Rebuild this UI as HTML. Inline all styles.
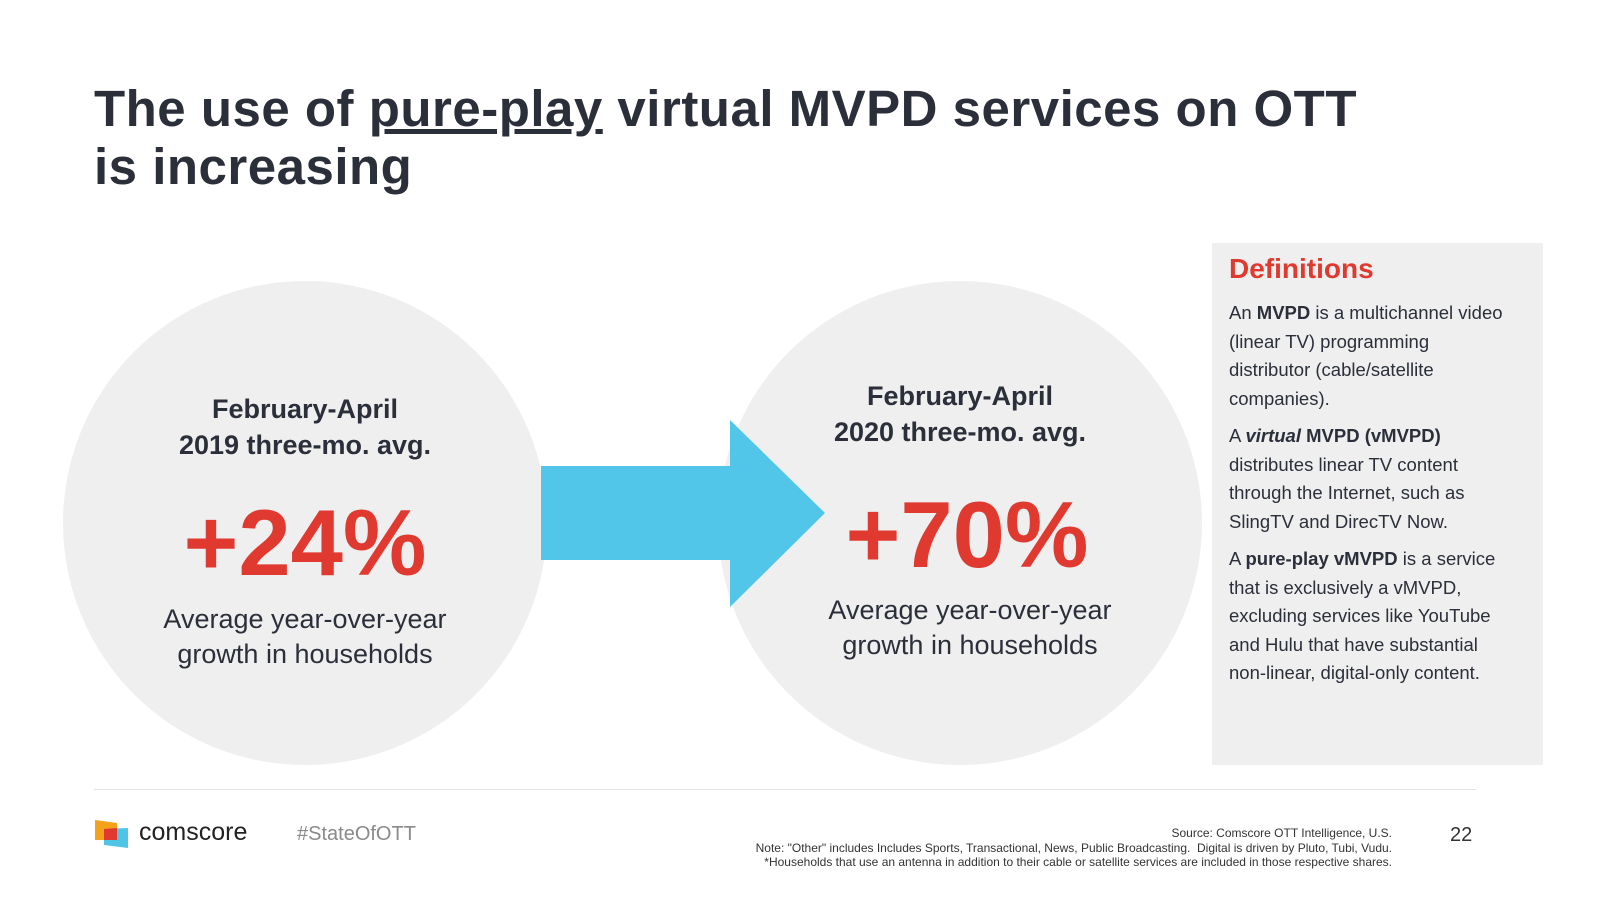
<!DOCTYPE html>
<html><head><meta charset="utf-8"><style>
body{margin:0;width:1600px;height:900px;background:#fff;position:relative;overflow:hidden;font-family:"Liberation Sans",Arial,sans-serif;color:#2b2f3a}
.a{position:absolute}
.t{left:94px;top:80px;font-size:51px;font-weight:bold;line-height:58px;letter-spacing:0.5px}
.circ{border-radius:50%;background:#efefef;width:484px;height:484px}
.ct{width:484px;text-align:center}
.h{font-size:27px;font-weight:bold;line-height:36px}
.big{font-size:94px;font-weight:bold;color:#e03a30;line-height:100px}
.sub{font-size:27px;line-height:35px}
.def{left:1212px;top:243px;width:331px;height:522px;background:#efefef}
.def p{margin:0 0 9px 0;font-size:18.5px;line-height:28.5px;color:#2b2f3a;width:284px}
</style></head><body>
<div class="a t">The use of <span style="text-decoration:underline">pure-play</span> virtual MVPD services on OTT<br>is increasing</div>

<div class="a circ" style="left:63px;top:281px"></div>
<div class="a circ" style="left:718px;top:281px"></div>

<svg class="a" style="left:0;top:0" width="1600" height="900">
<polygon points="541,466 730,466 730,420 825,513 730,607 730,560 541,560" fill="#52c6e8"/>
</svg>

<div class="a ct" style="left:63px;top:391px"><div class="h">February-April<br>2019 three-mo. avg.</div></div>
<div class="a ct big" style="left:63px;top:493px">+24%</div>
<div class="a ct sub" style="left:63px;top:602px">Average year-over-year<br>growth in households</div>

<div class="a ct" style="left:718px;top:378px"><div class="h">February-April<br>2020 three-mo. avg.</div></div>
<div class="a ct big" style="left:725px;top:485px">+70%</div>
<div class="a ct sub" style="left:728px;top:593px">Average year-over-year<br>growth in households</div>

<div class="a def">
<div style="padding:10px 16px 0 17px">
<div style="color:#e03a30;font-size:28px;font-weight:bold;margin-bottom:14px">Definitions</div>
<p>An <b>MVPD</b> is a multichannel video (linear TV) programming distributor (cable/satellite companies).</p>
<p>A <b><i>virtual</i> MVPD (vMVPD)</b> distributes linear TV content through the Internet, such as SlingTV and DirecTV Now.</p>
<p>A <b>pure-play vMVPD</b> is a service that is exclusively a vMVPD, excluding services like YouTube and Hulu that have substantial non-linear, digital-only content.</p>
</div></div>

<div class="a" style="left:94px;top:789px;width:1382px;height:1px;background:#e3e3e3"></div>
<svg class="a" style="left:95px;top:820px" width="34" height="28">
<polygon points="0,0 22,3 22,20 0,20" fill="#f5a21b"/>
<polygon points="9,9 33,8 33,28 9,25" fill="#4fc5e6"/>
<polygon points="9,9 22,8 22,20 9,20" fill="#e03a30"/>
</svg>
<div class="a" style="left:139px;top:818px;font-size:25px;color:#222">comscore</div>
<div class="a" style="left:297px;top:823px;font-size:20px;color:#8a8a8a">#StateOfOTT</div>
<div class="a" style="right:208px;top:826px;font-size:12px;line-height:14.5px;text-align:right;color:#333">Source: Comscore OTT Intelligence, U.S.<br>Note: "Other" includes Includes Sports, Transactional, News, Public Broadcasting.&nbsp; Digital is driven by Pluto, Tubi, Vudu.<br>*Households that use an antenna in addition to their cable or satellite services are included in those respective shares.</div>
<div class="a" style="left:1450px;top:824px;font-size:20px;color:#333">22</div>
</body></html>
